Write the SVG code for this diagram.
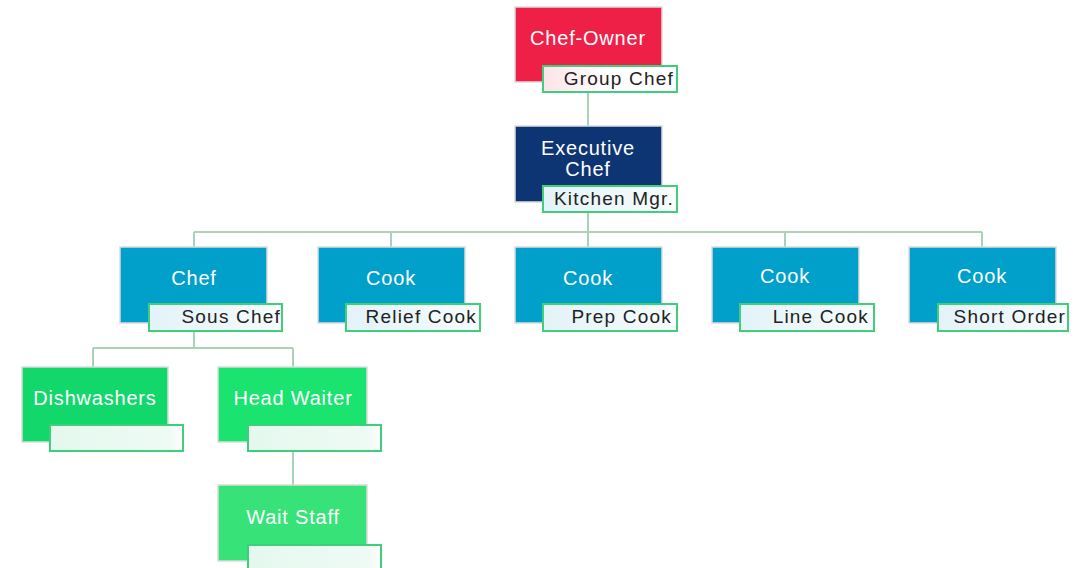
<svg xmlns="http://www.w3.org/2000/svg" width="1074" height="568" viewBox="0 0 1074 568">
<style>
.box{stroke:#dcdcdc;stroke-width:1.5}
.lbl{stroke:#3fcf7c;stroke-width:2}
.t{font-family:"Liberation Sans",Arial,sans-serif;font-size:20px;fill:#ffffff;text-anchor:middle;letter-spacing:0.8px}
.lt{font-family:"Liberation Sans",Arial,sans-serif;font-size:19px;fill:#222222;text-anchor:end;letter-spacing:1.2px}
.con{fill:none;stroke:#a9d3b6;stroke-width:2}
</style>
<defs>
<linearGradient id="gr" x1="0" x2="1"><stop offset="0" stop-color="#fde3e8"/><stop offset="0.5" stop-color="#ffffff"/></linearGradient>
<linearGradient id="gb" x1="0" x2="1"><stop offset="0" stop-color="#e3f3f8"/><stop offset="0.9" stop-color="#f4fbfd"/><stop offset="1" stop-color="#ffffff"/></linearGradient>
<linearGradient id="gg" x1="0" x2="1"><stop offset="0" stop-color="#e4f8ee"/><stop offset="0.9" stop-color="#eefbf4"/><stop offset="1" stop-color="#ffffff"/></linearGradient>
</defs>
<g id="connectors">
<path class="con" d="M588 92V126"/>
<path class="con" d="M588 212V232M194 232H982M194 232V247M391 232V247M588 232V247M785 232V247M982 232V247"/>
<path class="con" d="M194 331V348M93 348H293M93 348V367M293 348V367"/>
<path class="con" d="M293 451V485"/>
</g>
<g id="chef-owner">
<rect class="box" x="515" y="7" width="147" height="75" fill="#ee2048"/>
<text class="t" x="588" y="45">Chef-Owner</text>
<rect class="lbl" x="543" y="66" width="134" height="26" fill="url(#gr)"/>
<text class="lt" x="674" y="85">Group Chef</text>
</g>
<g id="executive-chef">
<rect class="box" x="515" y="126" width="147" height="76" fill="#0d3574"/>
<text class="t" x="588" y="155">Executive</text>
<text class="t" x="588" y="176">Chef</text>
<rect class="lbl" x="543" y="186" width="134" height="26" fill="url(#gb)"/>
<text class="lt" x="674" y="205">Kitchen Mgr.</text>
</g>
<g id="chef">
<rect class="box" x="120" y="247" width="147" height="76" fill="#00a0cb"/>
<text class="t" x="194" y="285">Chef</text>
<rect class="lbl" x="149" y="304" width="133" height="27" fill="url(#gb)"/>
<text class="lt" x="281" y="323">Sous Chef</text>
</g>
<g id="cook-relief">
<rect class="box" x="318" y="247" width="147" height="76" fill="#00a0cb"/>
<text class="t" x="391" y="285">Cook</text>
<rect class="lbl" x="346" y="304" width="134" height="27" fill="url(#gb)"/>
<text class="lt" x="477" y="323">Relief Cook</text>
</g>
<g id="cook-prep">
<rect class="box" x="515" y="247" width="147" height="76" fill="#00a0cb"/>
<text class="t" x="588" y="285">Cook</text>
<rect class="lbl" x="543" y="304" width="134" height="27" fill="url(#gb)"/>
<text class="lt" x="672" y="323">Prep Cook</text>
</g>
<g id="cook-line">
<rect class="box" x="712" y="247" width="147" height="76" fill="#00a0cb"/>
<text class="t" x="785" y="283">Cook</text>
<rect class="lbl" x="740" y="304" width="134" height="27" fill="url(#gb)"/>
<text class="lt" x="869" y="323">Line Cook</text>
</g>
<g id="cook-short">
<rect class="box" x="909" y="247" width="147" height="76" fill="#00a0cb"/>
<text class="t" x="982" y="283">Cook</text>
<rect class="lbl" x="938" y="304" width="130" height="27" fill="url(#gb)"/>
<text class="lt" x="1066" y="323">Short Order</text>
</g>
<g id="dishwashers">
<rect class="box" x="22" y="367" width="146" height="75" fill="#12d76a"/>
<text class="t" x="95" y="405">Dishwashers</text>
<rect class="lbl" x="50" y="425" width="133" height="26" fill="url(#gg)"/>
</g>
<g id="head-waiter">
<rect class="box" x="218" y="367" width="149" height="75" fill="#1ae36f"/>
<text class="t" x="293" y="405">Head Waiter</text>
<rect class="lbl" x="248" y="425" width="133" height="26" fill="url(#gg)"/>
</g>
<g id="wait-staff">
<rect class="box" x="218" y="485" width="149" height="76" fill="#37e279"/>
<text class="t" x="293" y="524">Wait Staff</text>
<rect class="lbl" x="248" y="545" width="133" height="26" fill="url(#gg)"/>
</g>
</svg>
